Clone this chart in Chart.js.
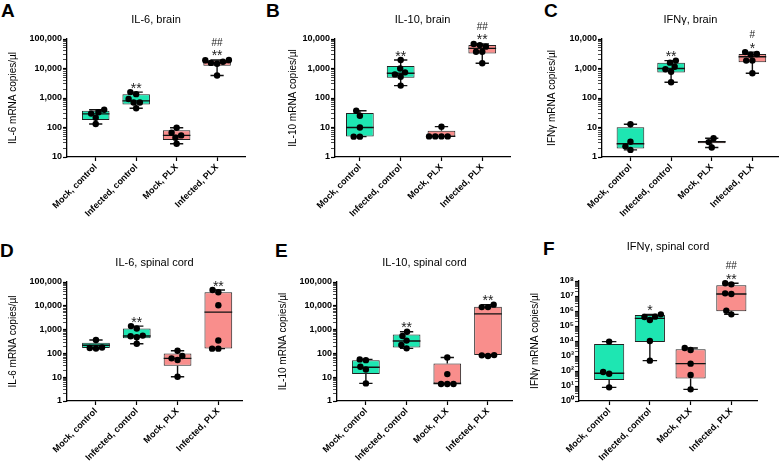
<!DOCTYPE html>
<html>
<head>
<meta charset="utf-8">
<script src="https://cdn.jsdelivr.net/npm/chart.js@4.4.1/dist/chart.umd.min.js"></script>
<style>
  body { margin: 0; background: #fff; width: 782px; height: 461px; position: relative; overflow: hidden; }
  canvas { position: absolute; }
  .letter { position: absolute; font: bold 19px "Liberation Sans", Arial, sans-serif; line-height: 19px; color: #000; }
</style>
</head>
<body>
<div class="letter" style="left:1px;top:1px">A</div>
<div class="letter" style="left:266px;top:1px">B</div>
<div class="letter" style="left:544px;top:1px">C</div>
<div class="letter" style="left:0px;top:241px">D</div>
<div class="letter" style="left:275px;top:241px">E</div>
<div class="letter" style="left:543px;top:239px">F</div>
<canvas id="cA"></canvas>
<canvas id="cB"></canvas>
<canvas id="cC"></canvas>
<canvas id="cD"></canvas>
<canvas id="cE"></canvas>
<canvas id="cF"></canvas>
<script>
// ===== Data =====
const groups = ["Mock, control", "Infected, control", "Mock, PLX", "Infected, PLX"];

// A: IL-6, brain
const il6BrainPts = [[131, 214, 296, 330, 400], [450, 700, 700, 930, 1350, 1585], [28, 45, 54, 66, 98], [5800, 14500, 15500, 17000, 19000, 19500]];
const il6BrainMin = [131, 450, 28, 5800];
const il6BrainQ1 = [180, 600, 38, 12300];
const il6BrainMed = [290, 800, 54, 16000];
const il6BrainQ3 = [370, 1350, 80, 19000];
const il6BrainMax = [400, 1585, 98, 19500];
const il6BrainSig = [[], ["**"], [], ["**", "##"]];
const il6BrainTicks = [10, 100, 1000, 10000, 100000];

// B: IL-10, brain
const il10BrainPts = [[4.9, 4.9, 10, 25, 37], [263, 525, 630, 740, 1000, 1940], [5, 5, 5, 5, 10.7], [1500, 3700, 3700, 5500, 6200, 6800]];
const il10BrainMin = [4.9, 263, 5, 1500];
const il10BrainQ1 = [5, 490, 5, 3250];
const il10BrainMed = [10, 690, 5, 4800];
const il10BrainQ3 = [31, 1210, 7.7, 6250];
const il10BrainMax = [37, 1940, 10.7, 6800];
const il10BrainSig = [[], ["**"], [], ["**", "##"]];
const il10BrainTicks = [1, 10, 100, 1000, 10000];

// C: IFNγ, brain
const ifnBrainPts = [[1.74, 2.3, 3.3, 12.9], [340, 775, 940, 1150, 1580, 1850], [2.1, 3.2, 4.3], [690, 1850, 1850, 2950, 3100, 3600]];
const ifnBrainMin = [1.74, 340, 2.1, 690];
const ifnBrainQ1 = [1.95, 725, 2.9, 1620];
const ifnBrainMed = [2.8, 1000, 3.3, 2500];
const ifnBrainQ3 = [10.1, 1580, 3.5, 3100];
const ifnBrainMax = [12.9, 1850, 4.3, 3600];
const ifnBrainSig = [[], ["**"], [], ["*", "#"]];
const ifnBrainTicks = [1, 10, 100, 1000, 10000];

// D: IL-6, spinal cord
const il6SpinalPts = [[160, 168, 178, 365], [255, 480, 525, 560, 1120, 1400], [10.5, 53, 62, 78, 130], [158, 158, 350, 10500, 37000, 46000]];
const il6SpinalMin = [160, 255, 10.5, 158];
const il6SpinalQ1 = [170, 430, 30, 162];
const il6SpinalMed = [220, 540, 62, 5400];
const il6SpinalQ3 = [280, 1120, 100, 37000];
const il6SpinalMax = [365, 1400, 130, 46000];
const il6SpinalSig = [[], ["**"], [], ["**"]];
const il6SpinalTicks = [1, 10, 100, 1000, 10000, 100000];

// E: IL-10, spinal cord
const il10SpinalPts = [[5.5, 21, 27.5, 52, 56], [163, 225, 345, 540, 810], [5.2, 5.2, 5.2, 13.5, 67], [78, 83, 85, 8800, 8800, 11200]];
const il10SpinalMin = [5.5, 163, 5.2, 78];
const il10SpinalQ1 = [13.5, 178, 5.4, 85];
const il10SpinalMed = [26, 330, 5.4, 4600];
const il10SpinalQ3 = [51, 630, 38, 9100];
const il10SpinalMax = [56, 810, 67, 11200];
const il10SpinalSig = [[], ["**"], [], ["**"]];
const il10SpinalTicks = [1, 10, 100, 1000, 10000, 100000];

// F: IFNγ, spinal cord
const ifnSpinalPts = [[8.1, 66, 85, 9100], [490, 10000, 250000, 400000, 420000, 600000], [6, 54, 310, 2500, 3400], [600000, 1050000, 13500000, 15000000, 60000000, 70000000]];
const ifnSpinalMin = [8.1, 490, 6, 600000];
const ifnSpinalQ1 = [25, 8500, 32, 950000];
const ifnSpinalMed = [70, 320000, 310, 13500000];
const ifnSpinalQ3 = [6300, 540000, 2800, 52000000];
const ifnSpinalMax = [9100, 600000, 3400, 70000000];
const ifnSpinalSig = [[], ["*"], [], ["**", "##"]];
const ifnSpinalTicks = [1, 10, 100, 1000, 10000, 100000, 1000000, 10000000, 100000000];

// ===== Styles / layout =====
Chart.defaults.font.family = "'Liberation Sans', Arial, sans-serif";
const fills = ["#1ee6b2", "#1ee6b2", "#f98e8c", "#f98e8c"];
const sup = "⁰¹²³⁴⁵⁶⁷⁸⁹";

const panels = [
  { id: "cA", title: "IL-6, brain", yTitle: "IL-6 mRNA copies/µl", pts: il6BrainPts, min: il6BrainMin, q1: il6BrainQ1, med: il6BrainMed, q3: il6BrainQ3, max: il6BrainMax, sig: il6BrainSig, ticks: il6BrainTicks,
    cell: { x: 0, y: 0, w: 260, h: 230 }, area: { l: 67, t: 39, r: 245, b: 157 }, xRange: [-0.71, 3.69], titleY: 20, yTitleX: 13, bar: 0.68 },
  { id: "cB", title: "IL-10, brain", yTitle: "IL-10 mRNA copies/µl", pts: il10BrainPts, min: il10BrainMin, q1: il10BrainQ1, med: il10BrainMed, q3: il10BrainQ3, max: il10BrainMax, sig: il10BrainSig, ticks: il10BrainTicks,
    cell: { x: 260, y: 0, w: 260, h: 230 }, area: { l: 335, t: 39, r: 510, b: 157 }, xRange: [-0.61, 3.68], titleY: 20, yTitleX: 293, bar: 0.68 },
  { id: "cC", title: "IFNγ, brain", yTitle: "IFNγ mRNA copies/µl", pts: ifnBrainPts, min: ifnBrainMin, q1: ifnBrainQ1, med: ifnBrainMed, q3: ifnBrainQ3, max: ifnBrainMax, sig: ifnBrainSig, ticks: ifnBrainTicks,
    cell: { x: 520, y: 0, w: 262, h: 230 }, area: { l: 602, t: 39, r: 780, b: 157 }, xRange: [-0.70, 3.65], titleY: 20, yTitleX: 552, bar: 0.68 },
  { id: "cD", title: "IL-6, spinal cord", yTitle: "IL-6 mRNA copies/µl", pts: il6SpinalPts, min: il6SpinalMin, q1: il6SpinalQ1, med: il6SpinalMed, q3: il6SpinalQ3, max: il6SpinalMax, sig: il6SpinalSig, ticks: il6SpinalTicks,
    cell: { x: 0, y: 230, w: 260, h: 231 }, area: { l: 67, t: 282, r: 242, b: 401 }, xRange: [-0.71, 3.58], titleY: 263, yTitleX: 13, bar: 0.68 },
  { id: "cE", title: "IL-10, spinal cord", yTitle: "IL-10 mRNA copies/µl", pts: il10SpinalPts, min: il10SpinalMin, q1: il10SpinalQ1, med: il10SpinalMed, q3: il10SpinalQ3, max: il10SpinalMax, sig: il10SpinalSig, ticks: il10SpinalTicks,
    cell: { x: 260, y: 230, w: 260, h: 231 }, area: { l: 337, t: 282, r: 512, b: 401 }, xRange: [-0.71, 3.59], titleY: 263, yTitleX: 283, bar: 0.68 },
  { id: "cF", title: "IFNγ, spinal cord", yTitle: "IFNγ mRNA copies/µl", pts: ifnSpinalPts, min: ifnSpinalMin, q1: ifnSpinalQ1, med: ifnSpinalMed, q3: ifnSpinalQ3, max: ifnSpinalMax, sig: ifnSpinalSig, ticks: ifnSpinalTicks,
    cell: { x: 520, y: 230, w: 262, h: 231 }, area: { l: 579, t: 281, r: 757, b: 401 }, xRange: [-0.74, 3.63], titleY: 247, yTitleX: 535, bar: 0.74, expLabels: true }
];

// ===== Helpers =====
// beeswarm: each point goes as close to the centre line as it can without overlapping
function swarm(values, decPx) {
  const diam = 6.2;
  const placed = [];
  values.slice().sort((a, b) => a - b).forEach(v => {
    const py = Math.log10(v) * decPx;
    const cand = [0];
    placed.forEach(q => {
      const dy = Math.abs(q.py - py);
      if (dy < diam) {
        const d = Math.sqrt(diam * diam - dy * dy) + 0.01;
        cand.push(q.dx + d, q.dx - d);
      }
    });
    cand.sort((a, b) => Math.abs(a) - Math.abs(b) || a - b);
    const dx = cand.find(c => !placed.some(q => Math.hypot(q.dx - c, q.py - py) < diam - 0.001));
    placed.push({ v, dx, py });
  });
  return placed;
}

function fmtTick(p, v) {
  if (p.expLabels) return "10" + sup[Math.round(Math.log10(v))];
  return v.toLocaleString("en-US");
}

function boxPlugin(p) {
  return {
    id: "box_" + p.id,
    afterDatasetDraw(chart, args) {
      if (args.meta.type !== "bar") return;
      const ctx = chart.ctx, y = chart.scales.y;
      ctx.save();
      ctx.strokeStyle = "#111";
      ctx.lineWidth = 1.4;
      args.meta.data.forEach((bar, i) => {
        const cx = bar.x, hw = bar.width / 2, cap = bar.width * 0.24;
        const yMin = y.getPixelForValue(p.min[i]), yMax = y.getPixelForValue(p.max[i]);
        const yQ1 = y.getPixelForValue(p.q1[i]), yQ3 = y.getPixelForValue(p.q3[i]);
        const yMed = y.getPixelForValue(p.med[i]);
        ctx.beginPath();
        ctx.moveTo(cx, yQ3); ctx.lineTo(cx, yMax);
        ctx.moveTo(cx - cap, yMax); ctx.lineTo(cx + cap, yMax);
        ctx.moveTo(cx, yQ1); ctx.lineTo(cx, yMin);
        ctx.moveTo(cx - cap, yMin); ctx.lineTo(cx + cap, yMin);
        ctx.moveTo(cx - hw, yMed); ctx.lineTo(cx + hw, yMed);
        ctx.stroke();
      });
      ctx.restore();
    },
    afterDraw(chart) {
      const ctx = chart.ctx, a = chart.chartArea, y = chart.scales.y, x = chart.scales.x;
      ctx.save();
      ctx.fillStyle = "#000";
      ctx.textAlign = "center";
      ctx.textBaseline = "middle";
      ctx.font = "11px 'Liberation Sans', Arial, sans-serif";
      ctx.fillText(p.title, (a.left + a.right) / 2, p.titleY - p.cell.y);
      // significance marks
      ctx.textBaseline = "alphabetic";
      ctx.fillStyle = "#222";
      p.sig.forEach((lines, i) => {
        const top = y.getPixelForValue(p.max[i]);
        const cx = x.getPixelForValue(i);
        lines.forEach((txt, k) => {
          const cyc = top - 7.5 - 10.5 * k;
          if (txt[0] === "#") {
            ctx.font = "10px 'Liberation Sans', Arial, sans-serif";
            ctx.fillText(txt, cx, cyc + 3.6);
          } else {
            ctx.font = "14px 'Liberation Sans', Arial, sans-serif";
            ctx.fillText(txt, cx, cyc + 8);
          }
        });
      });
      ctx.restore();
    }
  };
}

// ===== Charts =====
panels.forEach(p => {
  const cv = document.getElementById(p.id);
  cv.width = p.cell.w; cv.height = p.cell.h;
  cv.style.left = p.cell.x + "px"; cv.style.top = p.cell.y + "px";

  const yMin = p.ticks[0], yMax = p.ticks[p.ticks.length - 1];
  const catPx = (p.area.r - p.area.l) / (p.xRange[1] - p.xRange[0]);
  const decPx = (p.area.b - p.area.t) / Math.log10(yMax / yMin);

  const dots = [];
  p.pts.forEach((vals, i) => swarm(vals, decPx).forEach(d => dots.push({ x: i + d.dx / catPx, y: d.v })));

  const allTicks = [];
  for (let e = Math.round(Math.log10(yMin)); e < Math.round(Math.log10(yMax)); e++) {
    for (let m = 1; m < 10; m++) allTicks.push(m * Math.pow(10, e));
  }
  allTicks.push(yMax);
  const isMajor = v => p.ticks.some(t => Math.abs(t - v) < t * 1e-9);

  new Chart(cv, {
    type: "bar",
    data: {
      datasets: [
        {
          type: "scatter", data: dots, pointRadius: 3.2, pointHoverRadius: 3.2,
          pointBackgroundColor: "#000", pointBorderWidth: 0, clip: false
        },
        {
          type: "bar", data: groups.map((g, i) => ({ x: i, y: [p.q1[i], p.q3[i]] })),
          backgroundColor: fills, borderColor: "#222", borderWidth: 1, borderSkipped: false,
          categoryPercentage: 1, barPercentage: p.bar, clip: false
        }
      ]
    },
    options: {
      responsive: false,
      animation: false,
      devicePixelRatio: 1,
      events: [],
      layout: { padding: { left: 0, top: p.area.t - p.cell.y, right: p.cell.x + p.cell.w - p.area.r, bottom: 0 } },
      plugins: { legend: { display: false }, tooltip: { enabled: false } },
      scales: {
        x: {
          type: "linear", min: p.xRange[0], max: p.xRange[1], offset: false,
          afterBuildTicks: s => { s.ticks = groups.map((g, i) => ({ value: i })); },
          afterFit: s => { s.height = p.cell.y + p.cell.h - p.area.b; },
          ticks: { autoSkip: false, minRotation: 45, maxRotation: 45, color: "#000", padding: 1,
            font: { size: 9, weight: "bold" }, callback: v => groups[v] },
          grid: { offset: false, drawOnChartArea: false, tickLength: 4, tickColor: "#000", tickWidth: 1.2 },
          border: { color: "#000", width: 1.3 }
        },
        y: {
          type: "logarithmic", min: yMin, max: yMax,
          afterBuildTicks: s => { s.ticks = allTicks.map(v => ({ value: v })); },
          afterFit: s => { s.width = p.area.l - p.cell.x; },
          ticks: { autoSkip: false, color: "#000", padding: 1,
            font: { size: 9, weight: "bold" }, callback: v => isMajor(v) ? fmtTick(p, v) : "" },
          grid: { drawOnChartArea: false, tickLength: 4, tickColor: "#000",
            tickWidth: c => (c.tick && isMajor(c.tick.value)) ? 1.2 : 0.7 },
          border: { color: "#000", width: 1.3 },
          title: { display: true, text: p.yTitle, color: "#000", font: { size: 10 },
            padding: { top: p.yTitleX - p.cell.x - 6, bottom: 0 } }
        }
      }
    },
    plugins: [boxPlugin(p)]
  });
});
</script>
</body>
</html>
